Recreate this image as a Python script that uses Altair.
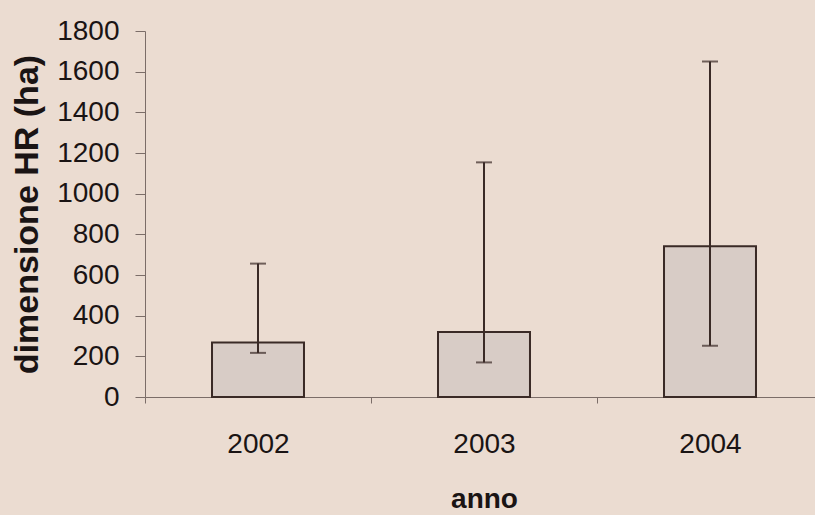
import altair as alt
import pandas as pd

years = ["2002", "2003", "2004"]
means = [268, 320, 742]
lows = [217, 170, 252]
highs = [656, 1154, 1650]

df = pd.DataFrame({"anno": years, "media": means, "low": lows, "high": highs})

BG = "#ebdcd1"
DARK = "#3a2a26"
FONT = "Liberation Sans"

xscale = alt.Scale(paddingInner=0, paddingOuter=0, range=[0, 678])
x = alt.X("anno:N", scale=xscale,
          axis=alt.Axis(title="anno", labelAngle=0, tickBand="extent",
                        tickSize=6, labelPadding=27, titlePadding=27,
                        labelFontSize=28, titleFontSize=28, titleFontWeight="bold",
                        labelColor="#1a1414", titleColor="#1a1414",
                        domainColor="#7b6d68", tickColor="#7b6d68", labelFont=FONT, titleFont=FONT))

yscale = alt.Scale(domain=[0, 1800], nice=False)
y = alt.Y("media:Q", scale=yscale,
          axis=alt.Axis(title="dimensione HR (ha)", values=list(range(0, 1801, 200)), format="d",
                        tickSize=10, labelPadding=16, titlePadding=12, grid=False,
                        labelFontSize=28, titleFontSize=34, titleFontWeight="bold",
                        labelColor="#1a1414", titleColor="#1a1414",
                        domainColor="#7b6d68", tickColor="#7b6d68", labelFont=FONT, titleFont=FONT))

base = alt.Chart(df)

bars = base.mark_bar(fill="#d8ccc6", stroke=DARK, strokeWidth=2,
                     width=alt.RelativeBandSize(0.407)).encode(x=x, y=y)

rule = base.mark_rule(color=DARK, strokeWidth=2).encode(
    x=alt.X("anno:N", scale=xscale), y=alt.Y("low:Q", scale=yscale), y2="high:Q")
cap_hi = base.mark_tick(color=DARK, thickness=2, size=16, orient="horizontal").encode(
    x=alt.X("anno:N", scale=xscale), y=alt.Y("high:Q", scale=yscale))
cap_lo = base.mark_tick(color=DARK, thickness=2, size=16, orient="horizontal").encode(
    x=alt.X("anno:N", scale=xscale), y=alt.Y("low:Q", scale=yscale))

chart = alt.layer(bars, rule, cap_hi, cap_lo).properties(
    width=670, height=366,
    autosize=alt.AutoSizeParams(type="none"),
    padding={"left": 145, "top": 31, "right": 0, "bottom": 118},
    background=BG,
).configure_view(stroke=None)

chart.save("out.html", embed_options={"renderer": "svg", "actions": False})
